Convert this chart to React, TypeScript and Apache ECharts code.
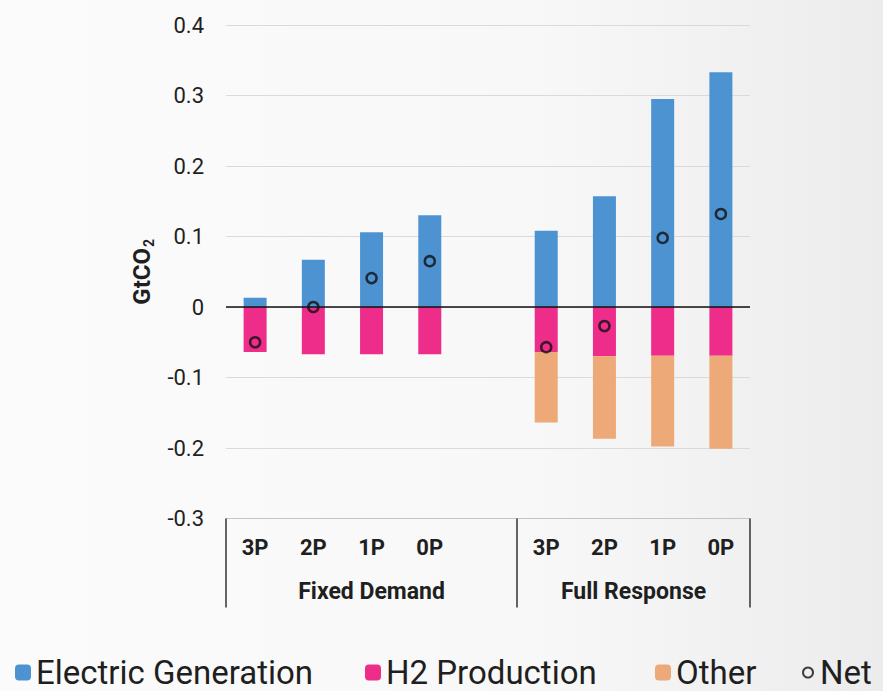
import React, { useEffect, useRef } from "react";
import * as echarts from "echarts";

const categories = ["3P", "2P", "1P", "0P", "", "3P", "2P", "1P", "0P"];
const groupLabels = ["Fixed Demand", "Full Response"];
const groupCenters = [2.5, 7];
const groupBounds = [0, 5, 9];
const electricGeneration = [0.013, 0.067, 0.106, 0.13, null, 0.108, 0.157, 0.295, 0.333];
const h2Production = [-0.064, -0.067, -0.067, -0.067, null, -0.064, -0.07, -0.069, -0.069];
const other = [null, null, null, null, null, -0.1, -0.117, -0.129, -0.132];
const net = [-0.05, 0.0, 0.041, 0.065, null, -0.057, -0.027, 0.098, 0.132];

const BLUE = "#4d93d2";
const PINK = "#ee2d8a";
const ORANGE = "#eda978";
const TEXT = "#1f1f1f";
const FONT = "Roboto, 'Noto Sans', sans-serif";

export default function App() {
  const ref = useRef<HTMLDivElement>(null);

  useEffect(() => {
    if (!ref.current) return;
    const chart = echarts.init(ref.current, undefined, { renderer: "svg" });
    const legendBase = {
      orient: "horizontal",
      top: 656,
      padding: 0,
      itemHeight: 16,
      itemWidth: 16,
      selectedMode: false,
      textStyle: { fontSize: 33, lineHeight: 29, color: TEXT, fontFamily: FONT },
    };
    chart.setOption({
      animation: false,
      backgroundColor: {
        type: "linear",
        x: 0,
        y: 0,
        x2: 1,
        y2: 0,
        colorStops: [
          { offset: 0, color: "#fbfbfb" },
          { offset: 0.6, color: "#f8f8f8" },
          { offset: 1, color: "#ececec" },
        ],
      },
      textStyle: { fontFamily: FONT },
      grid: { left: 226, right: 133, top: 25, bottom: 172.5 },
      legend: [
        { ...legendBase, left: 15, data: ["Electric Generation"] },
        { ...legendBase, left: 365, data: ["H2 Production"] },
        { ...legendBase, left: 655, data: ["Other"] },
        { ...legendBase, left: 802, itemWidth: 14, itemHeight: 10, data: ["Net"] },
      ],
      xAxis: [
        {
          type: "category",
          data: categories,
          position: "bottom",
          axisLine: { onZero: false, lineStyle: { color: "#c4c4c4", width: 1 } },
          axisTick: { show: false },
          axisLabel: {
            fontSize: 22,
            fontWeight: "bold",
            color: TEXT,
            margin: 18,
            interval: 0,
          },
          splitLine: { show: false },
        },
        {
          type: "value",
          min: 0,
          max: 9,
          position: "bottom",
          axisLine: { show: false, onZero: false },
          splitLine: { show: false },
          axisTick: {
            show: true,
            customValues: groupBounds,
            length: 89,
            lineStyle: { color: "#333", width: 1.5 },
          },
          axisLabel: {
            customValues: groupCenters,
            formatter: (v: number) => {
              const i = groupCenters.indexOf(v);
              return i >= 0 ? groupLabels[i] : "";
            },
            fontSize: 23,
            fontWeight: "bold",
            color: TEXT,
            margin: 61,
            showMinLabel: true,
            showMaxLabel: true,
          },
        },
      ],
      yAxis: {
        type: "value",
        min: -0.3,
        max: 0.4,
        interval: 0.1,
        name: "{a|GtCO}{b|2}",
        nameLocation: "middle",
        nameRotate: 90,
        nameGap: 64,
        nameTextStyle: {
          rich: {
            a: { fontSize: 24, fontWeight: "bold", color: TEXT, lineHeight: 28, fontFamily: FONT },
            b: {
              fontSize: 14,
              fontWeight: "bold",
              color: TEXT,
              lineHeight: 28,
              verticalAlign: "bottom",
              padding: [11, 0, 0, 1],
              fontFamily: FONT,
            },
          },
        },
        axisLine: { show: false },
        axisTick: { show: false },
        axisLabel: {
          fontSize: 22,
          color: TEXT,
          margin: 22,
          formatter: (v: number) => String(Math.round(v * 10) / 10),
        },
        splitLine: { lineStyle: { color: "#dadada", width: 1 } },
      },
      series: [
        {
          name: "Electric Generation",
          type: "bar",
          stack: "total",
          barWidth: 23,
          data: electricGeneration,
          itemStyle: { color: BLUE },
          markLine: {
            silent: true,
            symbol: ["none", "none"],
            label: { show: false },
            lineStyle: { color: "#111", width: 1.5, type: "solid" },
            data: [{ yAxis: 0 }],
          },
        },
        {
          name: "H2 Production",
          type: "bar",
          stack: "total",
          barWidth: 23,
          data: h2Production,
          itemStyle: { color: PINK },
        },
        {
          name: "Other",
          type: "bar",
          stack: "total",
          barWidth: 23,
          data: other,
          itemStyle: { color: ORANGE },
        },
        {
          name: "Net",
          type: "scatter",
          data: net,
          symbol: "circle",
          symbolSize: 10,
          z: 5,
          itemStyle: { color: "rgba(255,255,255,0)", borderColor: "#111", borderWidth: 2.5 },
        },
      ],
    });
    return () => chart.dispose();
  }, []);

  return (
    <div
      ref={ref}
      style={{ position: "fixed", left: 0, top: 0, width: 883, height: 691 }}
    />
  );
}
